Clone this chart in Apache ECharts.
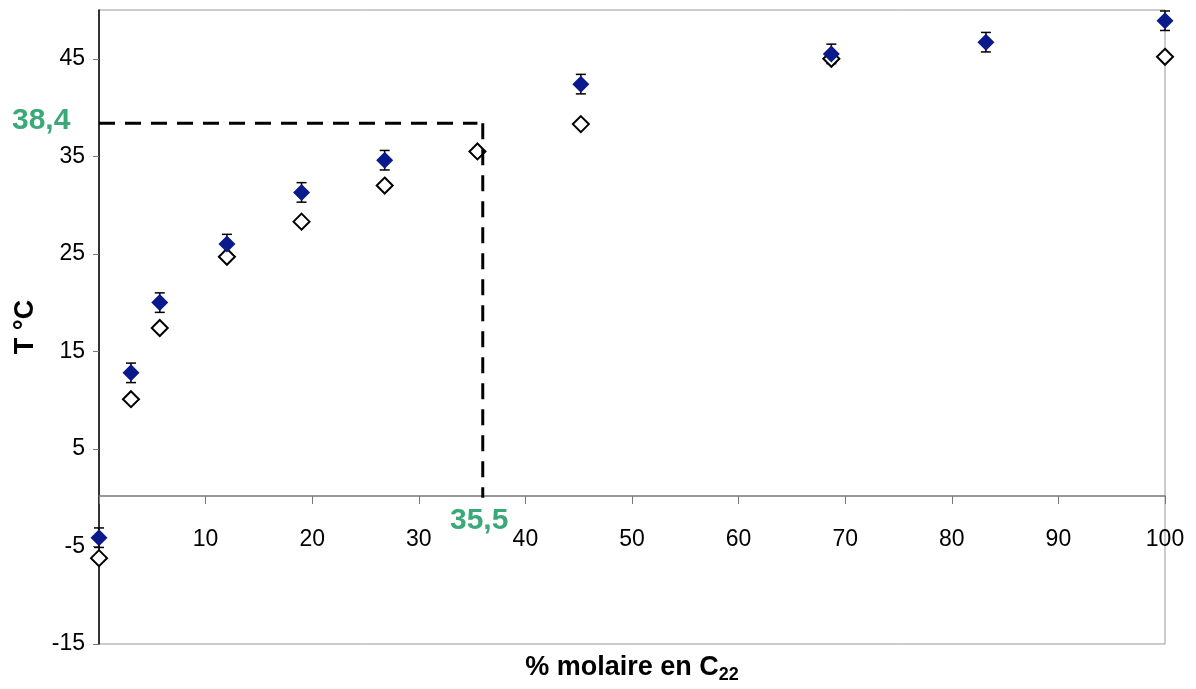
<!DOCTYPE html>
<html>
<head>
<meta charset="utf-8">
<script src="https://cdn.jsdelivr.net/npm/echarts@6/dist/echarts.min.js"></script>
<style>
  html, body { margin: 0; padding: 0; background: #fff; }
  #chart { width: 1196px; height: 689px; }
</style>
</head>
<body>
<div id="chart"></div>
<script>
// % molaire en C22
var xValues = [0, 3, 5.7, 12, 19, 26.8, 35.5, 45.2, 68.7, 83.2, 100];
// filled diamonds (with error bars), null where no point
var tFilled = [-4.1, 12.8, 20.0, 26.0, 31.3, 34.6, null, 42.4, 45.5, 46.7, 48.9];
var tErr = [1.0, 1.0, 1.0, 1.0, 1.0, 1.0, null, 1.0, 1.0, 1.0, 1.0];
// open diamonds
var tOpen = [-6.2, 10.1, 17.4, 24.7, 28.3, 32.0, 35.5, 38.3, 45.0, null, 45.2];

var yTicks = [-15, -5, 5, 15, 25, 35, 45];
var guideH = [[0, 38.4], [35.5, 38.4]];
var guideV = [[36, 38.4], [36, 0]];

var font = "'Liberation Sans', Arial, sans-serif";
var green = '#3aa877';

var filledData = [], errData = [], openData = [];
for (var i = 0; i < xValues.length; i++) {
    if (tFilled[i] !== null) {
        filledData.push([xValues[i], tFilled[i]]);
        errData.push([xValues[i], tFilled[i] - tErr[i], tFilled[i] + tErr[i]]);
    }
    if (tOpen[i] !== null) openData.push([xValues[i], tOpen[i]]);
}

var chart = echarts.init(document.getElementById('chart'));
chart.setOption({
    animation: false,
    textStyle: {fontFamily: font},
    grid: {left: 99, right: 31, top: 10, bottom: 38, show: true, borderColor: '#999', borderWidth: 1},
    xAxis: [{
        // main axis drawn at T = 0 (moved up from the grid bottom)
        type: 'value', min: 0, max: 100, interval: 10,
        offset: -148,
        axisLine: {onZero: false, lineStyle: {color: '#777', width: 1.5}},
        axisTick: {length: 8, lineStyle: {color: '#777'}},
        axisLabel: {
            fontSize: 23, color: '#000', margin: 32, fontFamily: font,
            formatter: function(v) { return v === 0 ? '' : v; }
        },
        splitLine: {show: false}
    }, {
        type: 'value', min: 0, max: 100, position: 'bottom',
        axisLine: {show: false, onZero: false}, axisTick: {show: false},
        axisLabel: {show: false}, splitLine: {show: false},
        name: '% molaire en C{sub|22}',
        nameLocation: 'middle', nameGap: 8,
        nameTextStyle: {
            fontSize: 27, fontWeight: 'bold', color: '#000', fontFamily: font,
            rich: {sub: {fontSize: 18, fontWeight: 'bold', color: '#000', fontFamily: font, padding: [14, 0, 0, 0]}}
        }
    }],
    yAxis: {
        type: 'value', min: -15, max: 50,
        name: 'T °C', nameLocation: 'middle', nameGap: 60,
        nameTextStyle: {fontSize: 27, fontWeight: 'bold', color: '#000', fontFamily: font},
        axisLine: {lineStyle: {color: '#000', width: 1.5}},
        axisTick: {length: 6, lineStyle: {color: '#777'}, customValues: yTicks},
        axisLabel: {fontSize: 23, color: '#000', margin: 14, fontFamily: font, customValues: yTicks},
        splitLine: {show: false}
    },
    graphic: [
        {type: 'text', left: 12, top: 106, style: {text: '38,4', fill: green, font: 'bold 30px ' + font}},
        {type: 'text', left: 450, top: 506, style: {text: '35,5', fill: green, font: 'bold 30px ' + font}}
    ],
    series: [{
        type: 'line', data: guideH, symbol: 'none', silent: true,
        lineStyle: {color: '#000', width: 3, type: [16, 10]}
    }, {
        type: 'line', data: guideV, symbol: 'none', silent: true,
        lineStyle: {color: '#000', width: 3, type: [16, 10]}
    }, {
        type: 'custom', data: errData, clip: false,
        renderItem: function(params, api) {
            var x = api.value(0);
            var lo = api.coord([x, api.value(1)]);
            var hi = api.coord([x, api.value(2)]);
            var w = 5;
            var st = {stroke: '#000', lineWidth: 1.5};
            return {type: 'group', children: [
                {type: 'line', shape: {x1: lo[0], y1: lo[1], x2: hi[0], y2: hi[1]}, style: st},
                {type: 'line', shape: {x1: lo[0] - w, y1: lo[1], x2: lo[0] + w, y2: lo[1]}, style: st},
                {type: 'line', shape: {x1: hi[0] - w, y1: hi[1], x2: hi[0] + w, y2: hi[1]}, style: st}
            ]};
        }
    }, {
        type: 'scatter', data: openData, symbol: 'diamond', symbolSize: 16, clip: false,
        itemStyle: {color: '#fff', borderColor: '#000', borderWidth: 2, opacity: 1}
    }, {
        type: 'scatter', data: filledData, symbol: 'diamond', symbolSize: 17, clip: false,
        itemStyle: {color: '#0a1a8c', opacity: 1}
    }]
});
</script>
</body>
</html>
